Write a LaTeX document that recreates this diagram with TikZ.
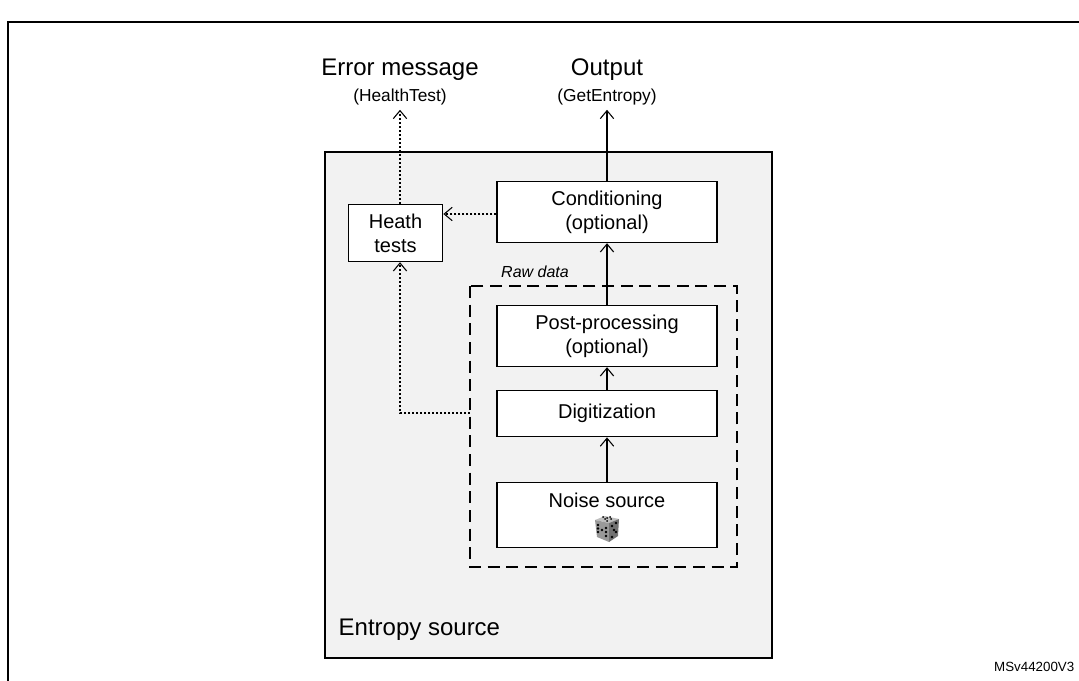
\documentclass[tikz,border=0pt]{standalone}
\usepackage{fontspec}
\setmainfont{Liberation Sans}
\usetikzlibrary{arrows.meta}
\tikzset{
  blk/.style={draw=black, thick, fill=white, align=center, font=\fontsize{15}{18}\selectfont},
  flow/.style={draw=black, thick, -{Straight Barb[length=6pt,width=10pt]}},
  dot/.style={draw=black, dash pattern=on 1.5pt off 1.5pt, thick, -{Straight Barb[length=6pt,width=10pt]}},
}
\begin{document}
\begin{tikzpicture}[x=0.75pt,y=-0.75pt]
\useasboundingbox (0,0) rectangle (1079,681);
\draw[black, thick] (8,681) -- (8,22) -- (1079,22);
\draw[black, thick, fill=black!5] (325,152) rectangle (772,658);
\draw[black, thick, dashed, dash pattern=on 9pt off 5pt] (470,286) rectangle (737,567);
\node[blk, minimum width=165pt, minimum height=46pt] (cond) at (607,212) {Conditioning\\(optional)};
\node[blk, minimum width=71pt, minimum height=43pt] (heath) at (395.5,233) {Heath\\tests};
\node[blk, minimum width=165pt, minimum height=46pt] (post) at (607,336) {Post-processing\\(optional)};
\node[blk, minimum width=165pt, minimum height=35pt] (digit) at (607,413.5) {Digitization};
\node[blk, minimum width=165pt, minimum height=49pt, text depth=22pt] (noise) at (607,515) {Noise source};
\node[font=\fontsize{18}{21}\selectfont] (err) at (400,70) {Error message};
\node[font=\fontsize{13}{16}\selectfont] (errsub) at (400,97) {(HealthTest)};
\node[font=\fontsize{18}{21}\selectfont] (out) at (607,70) {Output};
\node[font=\fontsize{13}{16}\selectfont] (outsub) at (607,97) {(GetEntropy)};
\node[font=\itshape\fontsize{12}{14}\selectfont] (raw) at (535,272) {Raw data};
\node[font=\fontsize{18}{21}\selectfont, anchor=west] (ent) at (334,630) {Entropy source};
\node[font=\fontsize{10}{12}\selectfont, anchor=east] (code) at (1079,667) {MSv44200V3};
\coordinate (dashl) at (470,413);
% dice
\begin{scope}[shift={(607,528)}]
\fill[black!25] (-12,-8) -- (-2,-12) -- (12,-9) -- (2,-5) -- cycle;
\fill[black!40] (-12,-8) -- (2,-5) -- (2,14) -- (-10,9) -- cycle;
\fill[black!55] (2,-5) -- (12,-9) -- (11,8) -- (2,14) -- cycle;
\foreach \p in {(-4,-11),(0,-10),(4,-9),(0,-7),(-2,-9),(3,-11)} \fill[black] \p circle (1);
\foreach \p in {(-9,-3),(-1,0),(-9,4),(-1,8),(-5,2),(-9,0.5),(-1,4)} \fill[black] \p circle (1.3);
\foreach \p in {(5,-2),(9,-5),(5,9),(9,4),(7,2)} \fill[black] \p circle (1.3);
\end{scope}
\draw[flow] (noise.north) -- (digit.south);
\draw[flow] (digit.north) -- (post.south);
\draw[flow] (post.north) -- (cond.south);
\draw[flow] (cond.north) -- (outsub.south);
\draw[dot] (cond.west |- heath.east) ++(0,-19) coordinate (cw) -- (cw -| heath.east);
\draw[dot] (heath.north -| errsub.south) -- (errsub.south);
\draw[dot] (dashl) -| (heath.south -| errsub.south);
\end{tikzpicture}
\end{document}
